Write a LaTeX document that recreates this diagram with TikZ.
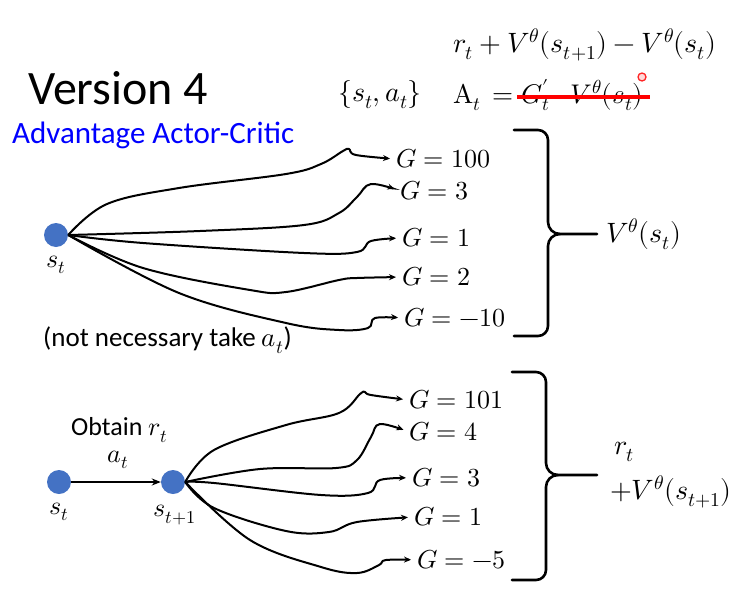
\documentclass[tikz,border=0pt]{standalone}
\usepackage{fontspec}
\usepackage{unicode-math}
\setmainfont{Carlito}
\setmathfont{Latin Modern Math}
\usetikzlibrary{arrows.meta}
\definecolor{nodeblue}{HTML}{4472C4}
\begin{document}
\begin{tikzpicture}[x=1pt,y=-1pt,
  state/.style={circle,fill=nodeblue,minimum size=24pt,inner sep=0pt},
  mlab/.style={inner sep=0pt,font=\fontsize{26}{30}\selectfont},
  flab/.style={inner sep=0pt,anchor=west,font=\fontsize{28}{32}\selectfont},
  glab/.style={mlab,anchor=west},
  traj/.style={line width=2pt,shorten >=6pt,-{Stealth[length=7pt,width=6pt]}},
  bracestyle/.style={line width=2.6pt,line cap=round,line join=round},
  txt/.style={inner sep=0pt,anchor=west,font=\fontsize{27}{30}\selectfont}
]
\useasboundingbox (0,0) rectangle (750,600);

% header
\node[inner sep=0pt,anchor=west,font=\fontsize{48}{52}\selectfont] (title) at (28,88) {Version 4};
\node[inner sep=0pt,anchor=west,text=blue,font=\fontsize{31}{34}\selectfont] (sub) at (12,135) {Advantage Actor-Critic};
\node[flab] (form1) at (453,45) {$r_t+V^{\theta}(s_{t+1})-V^{\theta}(s_t)$};
\node[flab] (sa) at (338,95) {$\{s_t,a_t\}$};
\node[flab,font=\fontsize{27}{31}\selectfont] (adv) at (453,95) {$\symup{A}_t\,=G'_t{-}V^{\theta}(s_t)$};
\coordinate (strikeA) at (517,97);
\coordinate (strikeB) at (650,97);
\draw[red,line width=4pt] (strikeA) -- (strikeB);
\draw[red!85,line width=1.3pt,fill=red!15] (642,77) circle (4);

% top tree
\node[state] (s1) at (56,235) {};
\node[mlab] (s1l) at (56,265) {$s_t$};
\node[glab] (g1) at (396,159) {$G=100$};
\node[glab] (g2) at (400,191) {$G=3$};
\node[glab] (g3) at (402,238) {$G=1$};
\node[glab] (g4) at (402,277) {$G=2$};
\node[glab] (g5) at (404,318) {$G=-10$};
\draw[traj] plot[smooth,tension=0.6] coordinates {(s1.east) (107,204) (179,188) (286,174) (321,164) (343,151) (349,149) (356,155) (g1.west)};
\draw[traj] plot[smooth,tension=0.6] coordinates {(s1.east) (200,231) (304,225) (339,213) (357,197) (371,184) (g2.west)};
\draw[traj] plot[smooth,tension=0.6] coordinates {(s1.east) (143,243) (304,253) (357,252) (371,241) (g3.west)};
\draw[traj] plot[smooth,tension=0.6] coordinates {(s1.east) (143,268) (250,290) (286,292) (339,280) (357,278) (g4.west)};
\draw[traj] plot[smooth,tension=0.6] coordinates {(s1.east) (179,293) (286,323) (339,330) (368,328) (375,318) (g5.west)};
\node[txt] (note) at (43,340) {(not necessary take $a_t$)};

% top brace
\coordinate (tip1) at (597,234);
\draw[bracestyle] (514,130) -- (538,130) to[out=0,in=90] (548,140) -- (548,222) to[out=-90,in=180] (560,234) -- (tip1);
\draw[bracestyle] (560,234) to[out=180,in=90] (548,246) -- (548,326) to[out=-90,in=0] (538,336) -- (514,336);
\node[flab] (v1) at (606,234) {$V^{\theta}(s_t)$};

% bottom
\node[state] (s2) at (59,482) {};
\node[state] (s3) at (173,482) {};
\node[mlab] (s2l) at (59,512) {$s_t$};
\node[mlab] (s3l) at (175,515) {$s_{t+1}$};
\draw[line width=2pt,-{Stealth[length=9pt,width=7pt]}] (s2) -- (s3);
\node[txt,font=\fontsize{26}{30}\selectfont] (obt) at (71,430) {Obtain $r_t$};
\node[mlab] (at) at (118,460) {$a_t$};
\node[glab] (h1) at (409,400) {$G=101$};
\node[glab] (h2) at (409,432) {$G=4$};
\node[glab] (h3) at (412,478) {$G=3$};
\node[glab] (h4) at (414,517) {$G=1$};
\node[glab] (h5) at (417,560) {$G=-5$};
\draw[traj] plot[smooth,tension=0.6] coordinates {(s3.east) (214,450) (286,425) (339,413) (360,394) (365,392) (371,395) (h1.west)};
\draw[traj] plot[smooth,tension=0.6] coordinates {(s3.east) (260,469) (336,468) (357,460) (371,437) (380,424) (h2.west)};
\draw[traj] plot[smooth,tension=0.6] coordinates {(s3.east) (214,483) (321,495) (368,493) (380,480) (h3.west)};
\draw[traj] plot[smooth,tension=0.6] coordinates {(s3.east) (214,508) (286,531) (329,532) (357,522) (h4.west)};
\draw[traj] plot[smooth,tension=0.6] coordinates {(s3.east) (250,540) (321,567) (357,573) (379,565) (386,560) (h5.west)};

% bottom brace
\coordinate (tip2) at (597,475);
\draw[bracestyle] (512,372) -- (536,372) to[out=0,in=90] (546,382) -- (546,463) to[out=-90,in=180] (558,475) -- (tip2);
\draw[bracestyle] (558,475) to[out=180,in=90] (546,487) -- (546,570) to[out=-90,in=0] (536,580) -- (512,580);
\node[flab] (r1) at (614,452) {$r_t$};
\node[flab] (v2) at (610,492) {$+V^{\theta}(s_{t+1})$};
\end{tikzpicture}
\end{document}
